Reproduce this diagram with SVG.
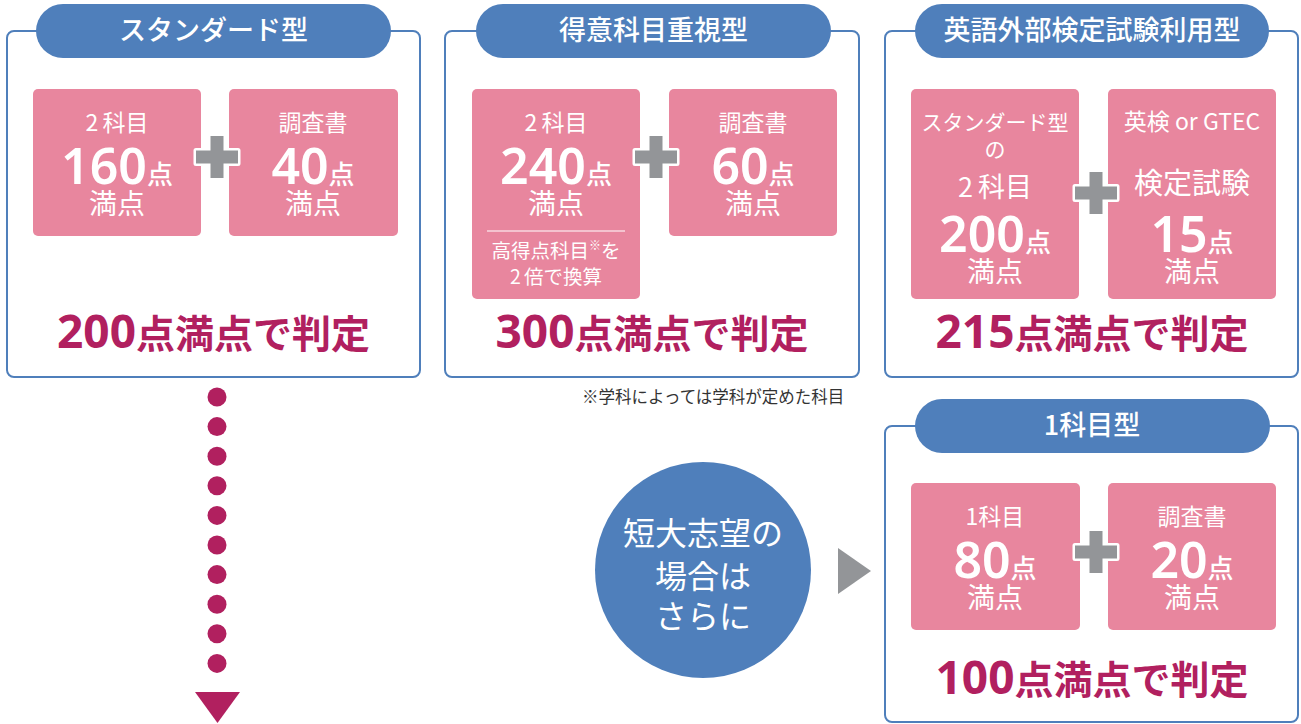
<svg xmlns="http://www.w3.org/2000/svg" width="1301" height="724" viewBox="0 0 1301 724">
<style>
.frame{fill:#fff;stroke:#4F7FBB;stroke-width:2}
.pill{fill:#4F7FBB}
.pink{fill:#E8869E}
.title{font-family:"Noto Sans CJK JP","Noto Sans",sans-serif;font-size:27px;fill:#fff;text-anchor:middle;font-weight:500}
.t{font-family:"Noto Sans CJK JP","Noto Sans",sans-serif;fill:#fff;text-anchor:middle;font-weight:400}
.num{font-family:"Noto Sans","Noto Sans CJK JP",sans-serif;font-weight:600;fill:#fff;text-anchor:middle}
.num tspan{font-family:"Noto Sans CJK JP",sans-serif;font-weight:500}
.judge{font-family:"Noto Sans CJK JP","Noto Sans",sans-serif;font-weight:700;fill:#B1205F;text-anchor:middle;font-size:39px}
.judge .d{font-family:"Noto Sans","Noto Sans CJK JP",sans-serif;font-size:46px;font-weight:700}
.plus{fill:#939598;stroke:#fff;stroke-width:5;stroke-linejoin:round;paint-order:stroke}
.note{font-family:"Noto Sans CJK JP","Noto Sans",sans-serif;font-size:16.5px;fill:#333}
.dot{fill:#B1205F}
</style>
<defs>
<path id="cross" class="plus" d="M-6.5,-21 H6.5 V-6.5 H21 V6.5 H6.5 V21 H-6.5 V6.5 H-21 V-6.5 H-6.5 Z"/>
</defs>

<g id="standard">
<rect class="frame" x="7" y="31" width="413" height="346" rx="7"/>
<rect class="pill" x="36" y="4" width="355" height="54" rx="27"/>
<text class="title" x="213.5" y="40">スタンダード型</text>
<rect class="pink" x="33" y="89" width="168" height="147" rx="5"/>
<rect class="pink" x="229" y="89" width="169" height="147" rx="5"/>
<text class="t" x="117" y="131" font-size="23">2<tspan dx="4">科目</tspan></text>
<text class="num" x="117" y="184" font-size="50">160<tspan font-size="26">点</tspan></text>
<text class="t" x="117" y="214" font-size="28">満点</text>
<text class="t" x="313" y="131" font-size="23">調査書</text>
<text class="num" x="313" y="184" font-size="50">40<tspan font-size="26">点</tspan></text>
<text class="t" x="313" y="214" font-size="28">満点</text>
<use href="#cross" x="217" y="157"/>
<text class="judge" x="213.5" y="348"><tspan class="d">200</tspan>点満点で判定</text>
</g>

<g id="tokui">
<rect class="frame" x="445" y="31" width="414" height="346" rx="7"/>
<rect class="pill" x="476" y="4" width="355" height="54" rx="27"/>
<text class="title" x="653.5" y="40">得意科目重視型</text>
<rect class="pink" x="472" y="89" width="168" height="210" rx="5"/>
<rect class="pink" x="669" y="89" width="168" height="147" rx="5"/>
<text class="t" x="556" y="131" font-size="23">2<tspan dx="4">科目</tspan></text>
<text class="num" x="556" y="184" font-size="50">240<tspan font-size="26">点</tspan></text>
<text class="t" x="556" y="214" font-size="28">満点</text>
<line x1="487" y1="231" x2="625" y2="231" stroke="#fff" stroke-width="1.2"/>
<text class="t" x="556" y="258" font-size="19.5">高得点科目<tspan font-size="12" dy="-8">※</tspan><tspan dy="8">を</tspan></text>
<text class="t" x="556" y="284" font-size="19.5">2<tspan dx="3">倍で換算</tspan></text>
<text class="t" x="753" y="131" font-size="23">調査書</text>
<text class="num" x="753" y="184" font-size="50">60<tspan font-size="26">点</tspan></text>
<text class="t" x="753" y="214" font-size="28">満点</text>
<use href="#cross" x="656" y="157"/>
<text class="judge" x="652" y="348"><tspan class="d">300</tspan>点満点で判定</text>
</g>

<text class="note" x="582" y="403">※学科によっては学科が定めた科目</text>

<g id="eigo">
<rect class="frame" x="885" y="31" width="413" height="346" rx="7"/>
<rect class="pill" x="915" y="4" width="354" height="54" rx="27"/>
<text class="title" x="1092" y="40">英語外部検定試験利用型</text>
<rect class="pink" x="911" y="89" width="168" height="210" rx="5"/>
<rect class="pink" x="1108" y="89" width="168" height="210" rx="5"/>
<text class="t" x="995" y="130" font-size="21">スタンダード型</text>
<text class="t" x="995" y="157" font-size="21">の</text>
<text class="t" x="995" y="197" font-size="27">2<tspan dx="5">科目</tspan></text>
<text class="num" x="995" y="252" font-size="50">200<tspan font-size="26">点</tspan></text>
<text class="t" x="995" y="282" font-size="28">満点</text>
<text class="t" x="1192" y="130" font-size="23">英検 or GTEC</text>
<text class="t" x="1192" y="194" font-size="29">検定試験</text>
<text class="num" x="1192" y="252" font-size="50">15<tspan font-size="26">点</tspan></text>
<text class="t" x="1192" y="282" font-size="28">満点</text>
<use href="#cross" x="1096" y="193"/>
<text class="judge" x="1092" y="348"><tspan class="d">215</tspan>点満点で判定</text>
</g>

<g id="tandai">
<circle cx="703" cy="570" r="108" fill="#4F7FBB"/>
<text class="t" x="703" y="545" font-size="32" font-weight="500">短大志望の</text>
<text class="t" x="703" y="588" font-size="32" font-weight="500">場合は</text>
<text class="t" x="703" y="628" font-size="32" font-weight="500">さらに</text>
</g>

<g id="ikamoku">
<rect class="frame" x="885" y="426" width="413" height="296" rx="7"/>
<rect class="pill" x="915" y="399" width="355" height="54" rx="27"/>
<text class="title" x="1092" y="435">1科目型</text>
<rect class="pink" x="911" y="483" width="169" height="147" rx="5"/>
<rect class="pink" x="1108" y="483" width="168" height="147" rx="5"/>
<text class="t" x="995" y="525" font-size="23">1科目</text>
<text class="num" x="995" y="578" font-size="50">80<tspan font-size="26">点</tspan></text>
<text class="t" x="995" y="608" font-size="28">満点</text>
<text class="t" x="1192" y="525" font-size="23">調査書</text>
<text class="num" x="1192" y="578" font-size="50">20<tspan font-size="26">点</tspan></text>
<text class="t" x="1192" y="608" font-size="28">満点</text>
<use href="#cross" x="1096" y="552"/>
<text class="judge" x="1092" y="694"><tspan class="d">100</tspan>点満点で判定</text>
</g>

<g id="connectors">
<polygon points="838,548 871,571 838,594" fill="#939598"/>
<g class="dot">
<circle cx="217" cy="397" r="9.5"/>
<circle cx="217" cy="426.6" r="9.5"/>
<circle cx="217" cy="456.2" r="9.5"/>
<circle cx="217" cy="485.8" r="9.5"/>
<circle cx="217" cy="515.4" r="9.5"/>
<circle cx="217" cy="545" r="9.5"/>
<circle cx="217" cy="574.6" r="9.5"/>
<circle cx="217" cy="604.2" r="9.5"/>
<circle cx="217" cy="633.8" r="9.5"/>
<circle cx="217" cy="663.4" r="9.5"/>
</g>
<polygon points="195,692 240,692 217.5,723" fill="#B1205F"/>
</g>
</svg>
